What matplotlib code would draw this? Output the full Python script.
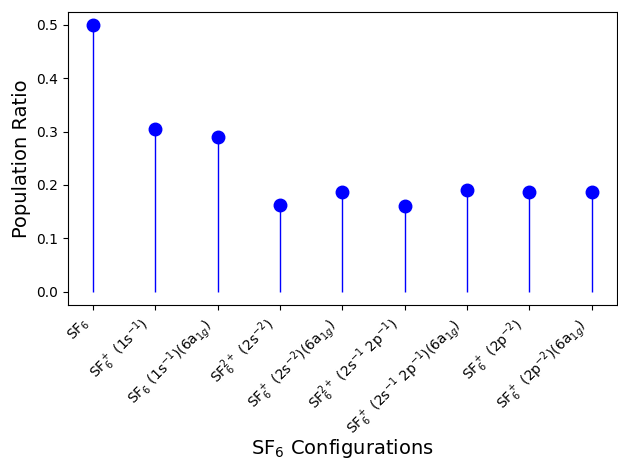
import matplotlib
matplotlib.use("Agg")
import matplotlib.pyplot as plt
import numpy as np

labels = [
    r"SF$_6$",
    r"SF$_6^+$ (1s$^{-1}$)",
    r"SF$_6$ (1s$^{-1}$)(6a$_{1g}$)",
    r"SF$_6^{2+}$ (2s$^{-2}$)",
    r"SF$_6^+$ (2s$^{-2}$)(6a$_{1g}$)",
    r"SF$_6^{2+}$ (2s$^{-1}$ 2p$^{-1}$)",
    r"SF$_6^+$ (2s$^{-1}$ 2p$^{-1}$)(6a$_{1g}$)",
    r"SF$_6^+$ (2p$^{-2}$)",
    r"SF$_6^+$ (2p$^{-2}$)(6a$_{1g}$)",
]
ratios = [0.499, 0.304, 0.289, 0.162, 0.187, 0.160, 0.190, 0.186, 0.186]

x = np.arange(len(labels))

fig, ax = plt.subplots(figsize=(6.18, 4.62), dpi=100)
ax.vlines(x, 0, ratios, color="blue", linewidth=1)
ax.plot(x, ratios, "o", color="blue", markersize=9)
ax.set_xticks(x)
ax.set_xticklabels(labels, rotation=45, ha="right")
ax.set_xlabel(r"SF$_6$ Configurations", fontsize=14)
ax.xaxis.set_label_coords(0.5, -0.45)
ax.set_ylabel("Population Ratio", fontsize=14)
fig.subplots_adjust(left=0.110, right=0.998, top=0.974, bottom=0.340)
plt.savefig("out.png", dpi=100)
